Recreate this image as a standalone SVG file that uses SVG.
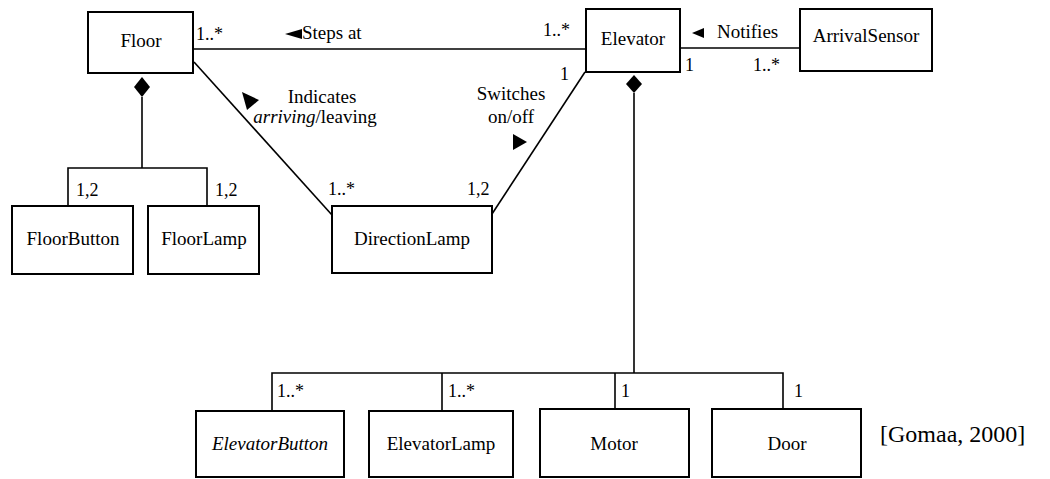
<svg xmlns="http://www.w3.org/2000/svg" width="1050" height="479" viewBox="0 0 1050 479" font-family="'Liberation Serif', 'Times New Roman', serif">
<style>
.box{fill:#fff;stroke:#000;stroke-width:2}
.ln{fill:none;stroke:#000;stroke-width:1.6}
.nm{font-size:19px;text-anchor:middle;fill:#000}
.m{font-size:18px;fill:#000}
.lb{font-size:19px;fill:#000}
.it{font-style:italic}
</style>
<rect width="1050" height="479" fill="#fff"/>
<g id="connectors">
<line class="ln" x1="193" y1="49" x2="586" y2="49"/>
<line class="ln" x1="680" y1="48" x2="800" y2="48"/>
<line class="ln" x1="194" y1="62" x2="332" y2="215"/>
<line class="ln" x1="585" y1="72" x2="492" y2="214"/>
<polygon points="142,77 150,87 142,97 134,87" fill="#000"/>
<polyline class="ln" points="142,97 142,168"/>
<polyline class="ln" points="68,206 68,168 207,168 207,206"/>
<polygon points="634,75 642,84 634,93 626,84" fill="#000"/>
<polyline class="ln" points="634,93 634,373"/>
<polyline class="ln" points="272,411 272,373 783,373 783,409"/>
<line class="ln" x1="442" y1="373" x2="442" y2="411"/>
<line class="ln" x1="615" y1="373" x2="615" y2="409"/>
<polygon points="285,34 302,29 302,39" fill="#000"/>
<polygon points="692,33 704,28 704,38" fill="#000"/>
<polygon points="242,92 259,100 247,110" fill="#000"/>
<polygon points="513,134 527,142 513,150" fill="#000"/>
<text class="lb" x="302" y="39">Steps at</text>
<text class="lb" x="717" y="38">Notifies</text>
<text class="lb" x="322" y="103" text-anchor="middle">Indicates</text>
<text class="lb" x="315" y="123" text-anchor="middle"><tspan class="it">arriving</tspan>/leaving</text>
<text class="lb" x="511" y="100" text-anchor="middle">Switches</text>
<text class="lb" x="511" y="123" text-anchor="middle">on/off</text>
<text class="m" x="196" y="40">1..*</text>
<text class="m" x="543" y="36">1..*</text>
<text class="m" x="685" y="71">1</text>
<text class="m" x="753" y="71">1..*</text>
<text class="m" x="560" y="80">1</text>
<text class="m" x="328" y="195">1..*</text>
<text class="m" x="467" y="195">1,2</text>
<text class="m" x="76" y="196">1,2</text>
<text class="m" x="215" y="196">1,2</text>
<text class="m" x="277" y="397">1..*</text>
<text class="m" x="448" y="397">1..*</text>
<text class="m" x="621" y="397">1</text>
<text class="m" x="794" y="397">1</text>
</g>
<g id="floor"><rect class="box" x="88" y="12" width="105" height="61"/><text class="nm" x="141" y="47">Floor</text></g>
<g id="elevator"><rect class="box" x="586" y="9" width="94" height="63"/><text class="nm" x="633" y="45">Elevator</text></g>
<g id="arrivalSensor"><rect class="box" x="800" y="9" width="132" height="62"/><text class="nm" x="866" y="42">ArrivalSensor</text></g>
<g id="floorButton"><rect class="box" x="12" y="206" width="121" height="68"/><text class="nm" x="73" y="245">FloorButton</text></g>
<g id="floorLamp"><rect class="box" x="148" y="206" width="111" height="68"/><text class="nm" x="204" y="245">FloorLamp</text></g>
<g id="directionLamp"><rect class="box" x="332" y="206" width="160" height="67"/><text class="nm" x="412" y="245">DirectionLamp</text></g>
<g id="elevatorButton"><rect class="box" x="196" y="411" width="148" height="66"/><text class="nm it" x="270" y="450">ElevatorButton</text></g>
<g id="elevatorLamp"><rect class="box" x="369" y="411" width="144" height="66"/><text class="nm" x="441" y="450">ElevatorLamp</text></g>
<g id="motor"><rect class="box" x="540" y="409" width="149" height="68"/><text class="nm" x="614" y="450">Motor</text></g>
<g id="door"><rect class="box" x="712" y="409" width="149" height="68"/><text class="nm" x="787" y="450">Door</text></g>
<text x="880" y="442" font-size="24" fill="#000">[Gomaa, 2000]</text>
</svg>
